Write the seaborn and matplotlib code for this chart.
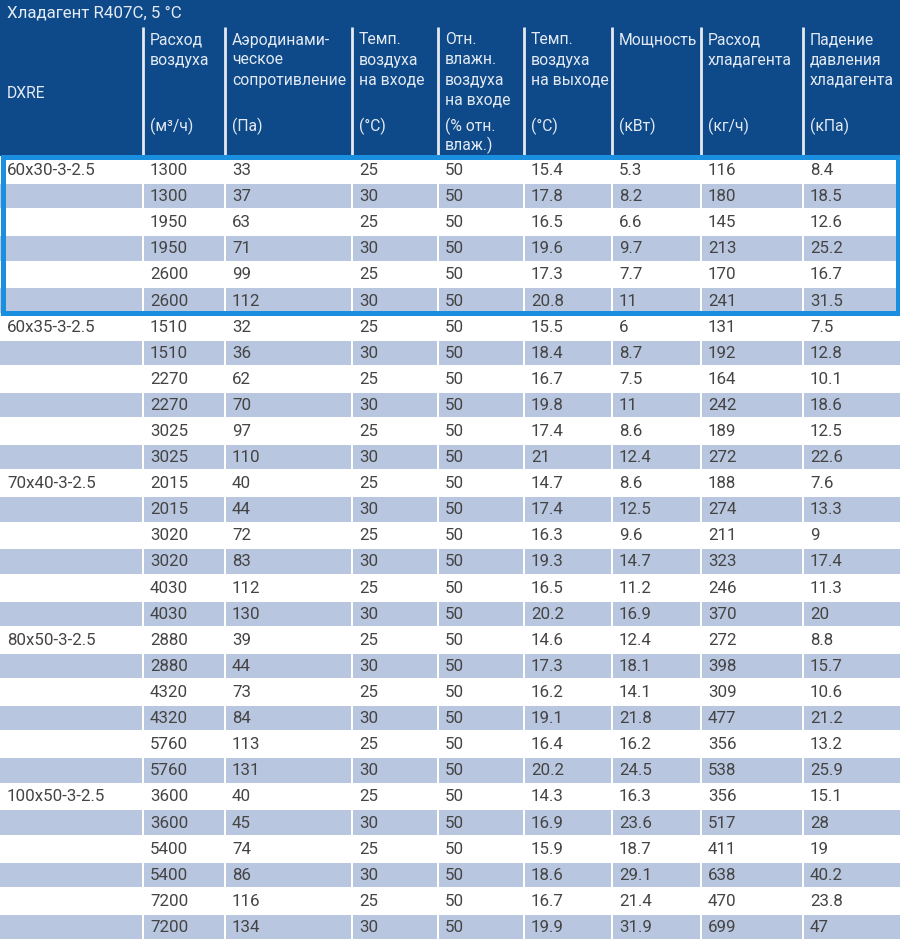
import numpy as np
import pandas as pd
import matplotlib
matplotlib.use("Agg")
import matplotlib.pyplot as plt
from matplotlib.patches import Rectangle
import seaborn as sns

# ---------------- data ----------------
title = "Хладагент R407C, 5 °C"
models = ["60x30-3-2.5", "60x35-3-2.5", "70x40-3-2.5", "80x50-3-2.5", "100x50-3-2.5"]
rows_per_model = 6

air_flow = [1300, 1300, 1950, 1950, 2600, 2600,
            1510, 1510, 2270, 2270, 3025, 3025,
            2015, 2015, 3020, 3020, 4030, 4030,
            2880, 2880, 4320, 4320, 5760, 5760,
            3600, 3600, 5400, 5400, 7200, 7200]
aero_res = [33, 37, 63, 71, 99, 112,
            32, 36, 62, 70, 97, 110,
            40, 44, 72, 83, 112, 130,
            39, 44, 73, 84, 113, 131,
            40, 45, 74, 86, 116, 134]
t_in = [25, 30] * 15
rh_in = [50] * 30
t_out = [15.4, 17.8, 16.5, 19.6, 17.3, 20.8,
         15.5, 18.4, 16.7, 19.8, 17.4, 21,
         14.7, 17.4, 16.3, 19.3, 16.5, 20.2,
         14.6, 17.3, 16.2, 19.1, 16.4, 20.2,
         14.3, 16.9, 15.9, 18.6, 16.7, 19.9]
power = [5.3, 8.2, 6.6, 9.7, 7.7, 11,
         6, 8.7, 7.5, 11, 8.6, 12.4,
         8.6, 12.5, 9.6, 14.7, 11.2, 16.9,
         12.4, 18.1, 14.1, 21.8, 16.2, 24.5,
         16.3, 23.6, 18.7, 29.1, 21.4, 31.9]
refr_flow = [116, 180, 145, 213, 170, 241,
             131, 192, 164, 242, 189, 272,
             188, 274, 211, 323, 246, 370,
             272, 398, 309, 477, 356, 538,
             356, 517, 411, 638, 470, 699]
press_drop = [8.4, 18.5, 12.6, 25.2, 16.7, 31.5,
              7.5, 12.8, 10.1, 18.6, 12.5, 22.6,
              7.6, 13.3, 9, 17.4, 11.3, 20,
              8.8, 15.7, 10.6, 21.2, 13.2, 25.9,
              15.1, 28, 19, 40.2, 23.8, 47]

header_first = "DXRE"
header_names = [["Расход", "воздуха"],
                ["Аэродинами-", "ческое", "сопротивление"],
                ["Темп.", "воздуха", "на входе"],
                ["Отн.", "влажн.", "воздуха", "на входе"],
                ["Темп.", "воздуха", "на выходе"],
                ["Мощность"],
                ["Расход", "хладагента"],
                ["Падение", "давления", "хладагента"]]
header_units = [["(м³/ч)"], ["(Па)"], ["(°C)"], ["(% отн.", "влаж.)"],
                ["(°C)"], ["(кВт)"], ["(кг/ч)"], ["(кПа)"]]

# ---------------- layout / style ----------------
df = pd.DataFrame({
    "model": [m if i % rows_per_model == 0 else "" for i, m in
              enumerate(np.repeat(models, rows_per_model))],
    "air": air_flow, "aero": aero_res, "tin": t_in, "rh": rh_in,
    "tout": t_out, "pow": power, "refr": refr_flow, "dp": press_drop,
})

sns.set_theme(style="white")
FONT = ["Roboto", "DejaVu Sans"]
plt.rcParams["font.family"] = FONT

W, H = 900, 940
fig = plt.figure(figsize=(9, 9.4), dpi=100)
ax = fig.add_axes([0, 0, 1, 1])
ax.set_xlim(0, W)
ax.set_ylim(H, 0)
ax.axis("off")

edges = [0, 143, 225, 352, 438, 524, 612, 701, 803, 900]
HEAD_BLUE = "#0E4A89"
STRIPE = "#B9C6DF"
FRAME = "#1A8FE0"
HEAD_TXT = "#E4EAF3"
BODY_TXT = "#444444"
FS = 12.2
FS_HEAD = 11.3
pad = 7
row0, pitch = 170.0, 26.1
n = len(df)
centers = row0 + pitch * np.arange(n)

# header background
ax.add_patch(Rectangle((0, 0), W, 156, facecolor=HEAD_BLUE, edgecolor="none", zorder=1))
ax.text(7, 13, title, color=HEAD_TXT, fontsize=FS, va="center", ha="left", zorder=3)
for e in edges[1:-1]:
    ax.plot([e, e], [27, 156], color="#E6EAF0", lw=2.0, zorder=2, solid_capstyle="butt")

ax.text(7, 93, header_first, color=HEAD_TXT, fontsize=FS_HEAD, va="center", ha="left", zorder=3)
for j, (names, units) in enumerate(zip(header_names, header_units)):
    x = edges[j + 1] + pad
    for k, line in enumerate(names):
        ax.text(x, 40 + 20 * k, line, color=HEAD_TXT, fontsize=FS_HEAD,
                va="center", ha="left", zorder=3)
    for k, line in enumerate(units):
        ax.text(x, 126 + 19 * k, line, color=HEAD_TXT, fontsize=FS_HEAD,
                va="center", ha="left", zorder=3)

# stripes (every second row), drawn as bars per column
gap = 2.5
stripe_idx = np.arange(1, n, 2)
for j in range(len(edges) - 1):
    left = edges[j] + (gap / 2 if j > 0 else 0)
    right = edges[j + 1] - (gap / 2 if j < len(edges) - 2 else 0)
    ax.barh(centers[stripe_idx], right - left, left=left, height=24.4,
            color=STRIPE, edgecolor="none", zorder=1)

# body text
cols = ["model", "air", "aero", "tin", "rh", "tout", "pow", "refr", "dp"]
for j, c in enumerate(cols):
    x = 7 if j == 0 else edges[j] + pad
    for i, v in enumerate(df[c]):
        s = v if isinstance(v, str) else f"{v:g}"
        if s:
            ax.text(x, centers[i] + 0.5, s, color=BODY_TXT, fontsize=FS,
                    va="center", ha="left", zorder=3)

# highlight frame around first model group
ax.add_patch(Rectangle((2.5, 156.5), W - 5, 312.5 - 156.5, facecolor="none",
                       edgecolor=FRAME, lw=3.6, zorder=4, joinstyle="miter"))

fig.savefig("out.png", dpi=100)
